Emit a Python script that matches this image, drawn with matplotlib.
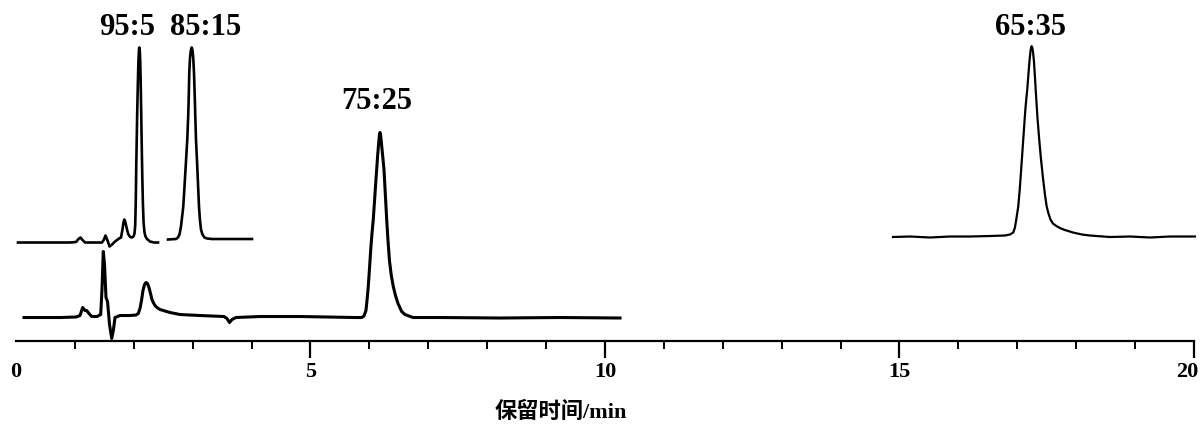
import matplotlib
matplotlib.use("Agg")
import matplotlib.pyplot as plt
from matplotlib.ticker import MultipleLocator
from matplotlib.transforms import ScaledTranslation

plt.rcParams['font.family'] = ['Liberation Serif', 'Noto Sans CJK SC']
plt.rcParams['font.weight'] = 'bold'

# retention time (min) / detector signal (arbitrary units)
t_7525 = [0.136, 0.747, 1.019, 1.087, 1.132, 1.172, 1.200, 1.239, 1.285, 1.375,
          1.438, 1.460, 1.482, 1.503, 1.528, 1.554, 1.588, 1.625, 1.655, 1.681,
          1.766, 1.936, 2.037, 2.076, 2.105, 2.131, 2.156, 2.182, 2.207, 2.233,
          2.258, 2.284, 2.309, 2.331, 2.360, 2.394, 2.445, 2.530, 2.615, 2.784,
          3.124, 3.532, 3.582, 3.625, 3.667, 3.735, 4.143, 4.822, 5.756,
          5.869, 5.908, 5.942, 5.963, 5.981, 6.002, 6.024, 6.044, 6.066, 6.088,
          6.107, 6.124, 6.143, 6.160, 6.171, 6.180, 6.190, 6.202, 6.222, 6.248,
          6.270, 6.294, 6.316, 6.341, 6.372, 6.406, 6.443, 6.486, 6.548, 6.604,
          6.672, 6.740, 7.199, 8.217, 9.236, 10.255]
s_7525 = [23, 23, 23.5, 25, 33, 30, 30, 27, 24, 24,
          26, 51, 89, 76, 43, 39, 16, 2, 11, 23,
          25, 25, 25.5, 27, 32, 40, 50, 56, 58, 57,
          53, 47, 41, 38, 35, 33, 31, 29.5, 28, 26,
          25, 24, 22, 18, 21, 23, 24, 24, 23,
          23, 24.5, 30, 42, 54, 72, 92, 107, 121, 140,
          157, 171, 187, 199, 205.5, 208, 205.5, 199, 187, 171,
          147, 121, 100, 80, 65, 54, 45, 37, 29, 26,
          24.5, 23, 23, 22.5, 23, 22.5]

t_955 = [0.034, 0.917, 1.019, 1.061, 1.095, 1.129, 1.172, 1.460, 1.494, 1.520,
         1.554, 1.588, 1.630, 1.681, 1.749, 1.783, 1.808, 1.825, 1.839, 1.854,
         1.873, 1.902, 1.936, 1.964, 1.995, 2.012, 2.024, 2.034, 2.042, 2.049,
         2.058, 2.068, 2.078, 2.087, 2.093, 2.102, 2.110, 2.117, 2.126, 2.134,
         2.144, 2.154, 2.166, 2.182, 2.199, 2.224, 2.275, 2.343, 2.411]
s_955 = [98, 98, 98.5, 101.5, 103, 100.5, 98, 98, 101, 105,
         100, 94, 96, 99, 102, 103, 111, 118, 121, 119,
         114, 107, 103.5, 103, 104, 107, 115, 140, 175, 198,
         228, 255, 278, 290, 293, 290, 278, 258, 228, 198,
         165, 138, 118, 108, 104, 101.5, 99, 98, 98]

t_8515 = [2.581, 2.716, 2.750, 2.776, 2.801, 2.823, 2.840, 2.857, 2.874, 2.891,
          2.908, 2.924, 2.934, 2.942, 2.954, 2.968, 2.983, 2.998, 3.010, 3.022,
          3.034, 3.044, 3.056, 3.073, 3.090, 3.107, 3.124, 3.141, 3.166, 3.200,
          3.243, 3.328, 3.464, 4.007]
s_8515 = [101, 101.5, 103, 106, 114, 125, 134, 150, 167, 184,
          201, 225, 246, 268, 282, 290, 293, 290, 282, 268,
          246, 225, 201, 180, 157, 134, 120, 111, 106, 103,
          102, 101.5, 101.5, 101.5]

t_6535 = [14.891, 15.180, 15.518, 15.858, 16.197, 16.537, 16.791, 16.876, 16.932, 16.961,
          16.986, 17.017, 17.041, 17.063, 17.083, 17.102, 17.122, 17.139, 17.156, 17.170,
          17.188, 17.207, 17.224, 17.236, 17.244, 17.255, 17.267, 17.284, 17.301, 17.313,
          17.328, 17.343, 17.358, 17.373, 17.402, 17.436, 17.470, 17.499, 17.530, 17.564,
          17.606, 17.669, 17.742, 17.810, 17.946, 18.098, 18.234, 18.574, 18.913, 19.253,
          19.593, 20.017]
s_6535 = [103.5, 104, 103, 104, 104, 104.5, 105, 106, 108, 113,
          122, 134, 150, 168, 185, 201, 218, 232, 243, 251,
          265, 279, 289, 293, 294.3, 293, 289, 279, 263, 251,
          237, 223, 212, 201, 182, 163, 146, 134.3, 127, 121,
          117, 114.3, 112, 110.5, 108, 106, 105, 103.5, 104, 103,
          104, 104]

labels = ['95:5', '85:15', '75:25', '65:35']
label_pos = [(1.893, 313), (3.226, 313), (6.129, 239), (17.233, 313)]

fig = plt.figure(figsize=(12.01, 4.24), dpi=100)
ax = fig.add_axes([0.01332, 0.1969, 0.9808, 0.8031])

ax.plot(t_7525, s_7525, color='black', lw=2.2, clip_on=False)
ax.plot(t_955, s_955, color='black', lw=1.9, clip_on=False)
ax.plot(t_8515, s_8515, color='black', lw=1.9, clip_on=False)
ax.plot(t_6535, s_6535, color='black', lw=1.6, clip_on=False)

for lab, (x, y) in zip(labels, label_pos):
    ax.text(x, y, lab, ha='center', va='center', fontsize=22, fontweight='bold')

ax.set_xlim(0, 20)
ax.set_ylim(0, 340.5)
for side in ['top', 'left', 'right']:
    ax.spines[side].set_visible(False)
ax.spines['bottom'].set_linewidth(1.6)
ax.set_yticks([])
ax.set_xticks([0, 5, 10, 15, 20])
ax.xaxis.set_minor_locator(MultipleLocator(1))
ax.tick_params(axis='x', which='major', direction='out', length=12, width=1.6,
               labelsize=16, pad=3.5)
ax.tick_params(axis='x', which='minor', direction='out', length=5.5, width=1.4)
ax.xaxis.get_major_ticks()[0].tick1line.set_visible(False)
ticklabels = ax.get_xticklabels()
for lbl in ticklabels:
    lbl.set_fontweight('bold')
# keep the last label inside the figure, as in the original
ticklabels[-1].set_transform(ticklabels[-1].get_transform() +
                             ScaledTranslation(-7 / 100, 0, fig.dpi_scale_trans))

fig.text(561 / 1201, 1 - 412 / 424, '保留时间/min', ha='center', va='center',
         fontsize=16, fontweight='bold')

fig.savefig('out.png', dpi=100)
